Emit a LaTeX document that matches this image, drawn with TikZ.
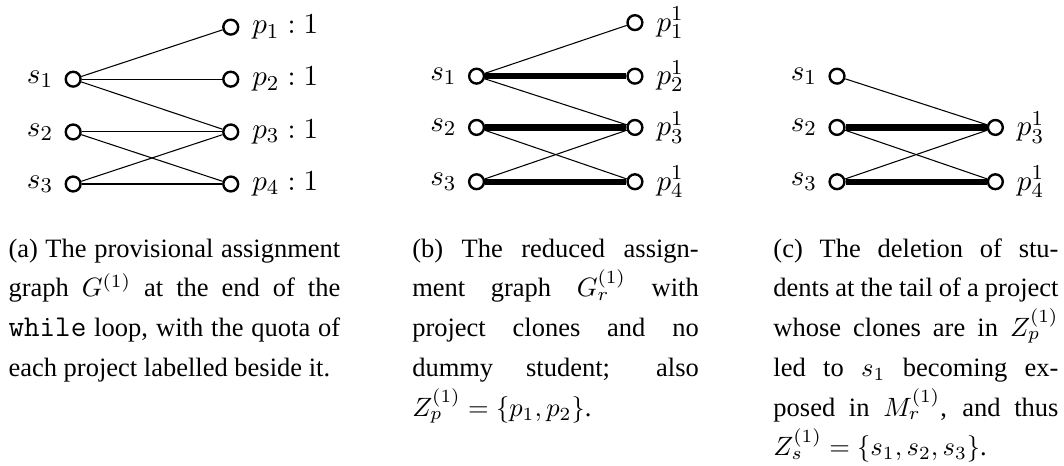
\documentclass[tikz,border=0pt]{standalone}
\usepackage{fontspec}
\setmainfont{Liberation Serif}
\setmonofont[Scale=1.14]{Latin Modern Mono}
\usetikzlibrary{positioning}
\tolerance=10000

\begin{document}
\begin{tikzpicture}[
    vertex/.style={circle, draw, line width=0.9pt, minimum size=5.6pt, inner sep=0pt},
    slabel/.style={inner sep=0.5pt, font=\fontsize{11}{13}\selectfont},
    thin edge/.style={line width=0.4pt},
    match edge/.style={line width=2.4pt},
    sub caption/.style={anchor=base west, inner sep=0pt, align=justify, font=\fontsize{10}{15}\selectfont}
    ]

    \useasboundingbox (0,0) rectangle (14.11,6.17);

    % (a) provisional assignment graph
    \node[vertex] (SA1) at (0.97,5.12) {};
    \node[vertex] (SA2) at (0.97,4.42) {};
    \node[vertex] (SA3) at (0.97,3.73) {};
    \node[slabel, left=3.6pt of SA1] (LSA1) {$s_1$};
    \node[slabel, left=3.6pt of SA2] (LSA2) {$s_2$};
    \node[slabel, left=3.6pt of SA3] (LSA3) {$s_3$};

    \node[vertex] (PA1) at (3.06,5.81) {};
    \node[vertex] (PA2) at (3.06,5.12) {};
    \node[vertex] (PA3) at (3.06,4.42) {};
    \node[vertex] (PA4) at (3.06,3.73) {};
    \node[slabel, right=4.2pt of PA1] (LPA1) {$p_1 : 1$};
    \node[slabel, right=4.2pt of PA2] (LPA2) {$p_2 : 1$};
    \node[slabel, right=4.2pt of PA3] (LPA3) {$p_3 : 1$};
    \node[slabel, right=4.2pt of PA4] (LPA4) {$p_4 : 1$};

    \draw[thin edge] (SA1) -- (PA1);
    \draw[thin edge] (SA1) -- (PA2);
    \draw[thin edge] (SA1) -- (PA3);
    \draw[thin edge] (SA2) -- (PA3);
    \draw[thin edge] (SA2) -- (PA4);
    \draw[thin edge] (SA3) -- (PA3);
    \draw[thin edge] (SA3) -- (PA4);

    % (b) reduced assignment graph
    \node[vertex] (SB1) at (6.32,5.16) {};
    \node[vertex] (SB2) at (6.32,4.48) {};
    \node[vertex] (SB3) at (6.32,3.76) {};
    \node[slabel, left=3.6pt of SB1] (LSB1) {$s_1$};
    \node[slabel, left=3.6pt of SB2] (LSB2) {$s_2$};
    \node[slabel, left=3.6pt of SB3] (LSB3) {$s_3$};

    \node[vertex] (PB1) at (8.42,5.87) {};
    \node[vertex] (PB2) at (8.42,5.16) {};
    \node[vertex] (PB3) at (8.42,4.48) {};
    \node[vertex] (PB4) at (8.42,3.76) {};
    \node[slabel, right=4.2pt of PB1] (LPB1) {$p_1^1$};
    \node[slabel, right=4.2pt of PB2] (LPB2) {$p_2^1$};
    \node[slabel, right=4.2pt of PB3] (LPB3) {$p_3^1$};
    \node[slabel, right=4.2pt of PB4] (LPB4) {$p_4^1$};

    \draw[thin edge] (SB1) -- (PB1);
    \draw[match edge] (SB1) -- (PB2);
    \draw[thin edge] (SB1) -- (PB3);
    \draw[match edge] (SB2) -- (PB3);
    \draw[thin edge] (SB2) -- (PB4);
    \draw[thin edge] (SB3) -- (PB3);
    \draw[match edge] (SB3) -- (PB4);

    % (c) after deleting students at the tail
    \node[vertex] (SC1) at (11.10,5.16) {};
    \node[vertex] (SC2) at (11.10,4.48) {};
    \node[vertex] (SC3) at (11.10,3.76) {};
    \node[slabel, left=3.6pt of SC1] (LSC1) {$s_1$};
    \node[slabel, left=3.6pt of SC2] (LSC2) {$s_2$};
    \node[slabel, left=3.6pt of SC3] (LSC3) {$s_3$};

    \node[vertex] (PC3) at (13.20,4.48) {};
    \node[vertex] (PC4) at (13.20,3.76) {};
    \node[slabel, right=4.2pt of PC3] (LPC3) {$p_3^1$};
    \node[slabel, right=4.2pt of PC4] (LPC4) {$p_4^1$};

    \draw[thin edge] (SC1) -- (PC3);
    \draw[match edge] (SC2) -- (PC3);
    \draw[thin edge] (SC2) -- (PC4);
    \draw[thin edge] (SC3) -- (PC3);
    \draw[match edge] (SC3) -- (PC4);

    % captions
    \node[sub caption, text width=4.40cm] (CAPA) at (0.106,2.759) {(a) The provisional assignment\linebreak
        graph $G^{(1)}$ at the end of the\linebreak
        \texttt{while} loop, with the quota of\linebreak
        each project labelled beside it.};

    \node[sub caption, text width=3.80cm] (CAPB) at (5.46,2.759) {(b) The reduced assign-\linebreak
        ment graph $G_r^{(1)}$ with\linebreak
        project clones and no\linebreak
        dummy student; also\linebreak
        $Z_p^{(1)} = \{p_1, p_2\}$.};

    \node[sub caption, text width=3.78cm] (CAPC) at (10.25,2.759) {(c) The deletion of stu-\linebreak
        dents at the tail of a project\linebreak
        whose clones are in $Z_p^{(1)}$\linebreak
        led to $s_1$ becoming ex-\linebreak
        posed in $M_r^{(1)}$, and thus\linebreak
        $Z_s^{(1)} = \{s_1, s_2, s_3\}$.};

\end{tikzpicture}
\end{document}
